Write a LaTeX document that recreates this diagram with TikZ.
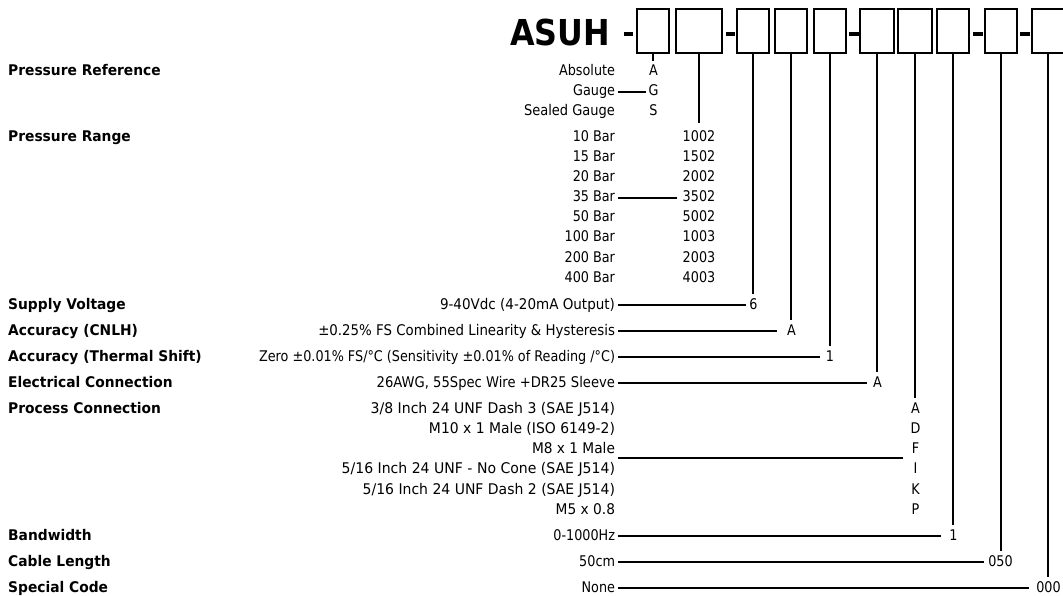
\documentclass[tikz,border=0pt]{standalone}
\usepackage{graphicx}
\usepackage{fontspec}
\setmainfont{DejaVu Sans}[FakeStretch=0.87]
\newfontfamily\hdrfont{DejaVu Sans}[FakeStretch=0.94]
\newfontfamily\titlefont{DejaVu Sans}[FakeStretch=0.89]
\usetikzlibrary{calc}
\newcommand{\labfit}[2]{\resizebox{#1}{\height}{#2}}
\begin{document}
\begin{tikzpicture}[x=1pt,y=-1pt,
  lab/.style={anchor=base east, inner sep=0pt, outer sep=0pt, text height=11pt, text depth=3pt, font=\fontsize{14.7}{17}\selectfont},
  hdr/.style={anchor=base west, inner sep=0pt, font=\hdrfont\bfseries\fontsize{14.7}{17}\selectfont},
  code/.style={anchor=base, inner sep=0pt, outer sep=0pt, text height=11pt, text depth=3pt, font=\fontsize{14.7}{17}\selectfont},
  box/.style={draw, line width=2pt, inner sep=0pt, minimum height=44pt, minimum width=32pt},
  conn/.style={line width=2pt},
  sepbar/.style={fill=black}]
\useasboundingbox (0,0) rectangle (1063,596);

% title and boxes
\node[anchor=base west, inner sep=0pt, font=\titlefont\bfseries\fontsize{35.7}{40}\selectfont] (title) at (510,46) {ASUH};
\fill[sepbar] (624,32) rectangle (633,36);
\node[box] (b1) at (653,31) {};
\node[box, minimum width=46pt] (b2) at (699,31) {};
\fill[sepbar] (726,32) rectangle (735,36);
\node[box] (b3) at (753,31) {};
\node[box] (b4) at (791,31) {};
\node[box] (b5) at (830,31) {};
\fill[sepbar] (849,32) rectangle (859,36);
\node[box, minimum width=34pt] (b6) at (877,31) {};
\node[box, minimum width=34pt] (b7) at (915,31) {};
\node[box] (b8) at (953,31) {};
\fill[sepbar] (973,32) rectangle (983,36);
\node[box] (b9) at (1001,31) {};
\fill[sepbar] (1020,32) rectangle (1030,36);
\node[box] (b10) at (1048,31) {};

% Pressure reference
\node[hdr] (hPR) at (8,76) {Pressure Reference};
\node[lab] (lAbs) at (615,76) {Absolute};
\node[lab] (lGau) at (615,96) {Gauge};
\node[lab] (lSea) at (615,116) {\labfit{91pt}{Sealed Gauge}};
\node[code] (cA) at (653.5,76) {A};
\node[code] (cG) at (653.5,96) {G};
\node[code] (cS) at (653.5,116) {S};

% Pressure range
\node[hdr] (hRange) at (8,142) {Pressure Range};
\node[lab] (l10) at (615,142) {10 Bar};
\node[lab] (l15) at (615,162) {15 Bar};
\node[lab] (l20) at (615,182) {20 Bar};
\node[lab] (l35) at (615,202) {35 Bar};
\node[lab] (l50) at (615,222) {50 Bar};
\node[lab] (l100) at (615,242) {100 Bar};
\node[lab] (l200) at (615,262) {200 Bar};
\node[lab] (l400) at (615,283) {400 Bar};
\node[code] (c1002) at (699,142) {1002};
\node[code] (c1502) at (699,162) {1502};
\node[code] (c2002) at (699,182) {2002};
\node[code] (c3502) at (699,202) {3502};
\node[code] (c5002) at (699,222) {5002};
\node[code] (c1003) at (699,242) {1003};
\node[code] (c2003) at (699,262) {2003};
\node[code] (c4003) at (699,283) {4003};

% Single-option rows
\node[hdr] (hSup) at (8,309) {Supply Voltage};
\node[lab] (lSup) at (615,309) {\labfit{175pt}{9-40Vdc (4-20mA Output)}};
\node[code] (c6) at (753.5,309) {6};

\node[hdr] (hCN) at (8,335) {Accuracy (CNLH)};
\node[lab] (lCN) at (615,335) {\labfit{296.7pt}{±0.25\% FS Combined Linearity \& Hysteresis}};
\node[code] (cCN) at (791.5,335) {A};

\node[hdr] (hTS) at (8,361) {Accuracy (Thermal Shift)};
\node[lab] (lTS) at (615,361) {Zero ±0.01\% FS/°C (Sensitivity ±0.01\% of Reading /°C)};
\node[code] (cTS) at (830,361) {1};

\node[hdr] (hEC) at (8,387) {Electrical Connection};
\node[lab] (lEC) at (615,387) {\labfit{238.3pt}{26AWG, 55Spec Wire +DR25 Sleeve}};
\node[code] (cEC) at (877.5,387) {A};

% Process connection
\node[hdr] (hPC) at (8,413) {Process Connection};
\node[lab] (lPC1) at (615,413) {\labfit{244.3pt}{3/8 Inch 24 UNF Dash 3 (SAE J514)}};
\node[lab] (lPC2) at (615,433) {\labfit{186pt}{M10 x 1 Male (ISO 6149-2)}};
\node[lab] (lPC3) at (615,453) {\labfit{83pt}{M8 x 1 Male}};
\node[lab] (lPC4) at (615,473) {\labfit{273.3pt}{5/16 Inch 24 UNF - No Cone (SAE J514)}};
\node[lab] (lPC5) at (615,494) {\labfit{252.3pt}{5/16 Inch 24 UNF Dash 2 (SAE J514)}};
\node[lab] (lPC6) at (615,514) {\labfit{59.3pt}{M5 x 0.8}};
\node[code] (cPA) at (915.5,413) {A};
\node[code] (cPD) at (915.5,433) {D};
\node[code] (cPF) at (915.5,453) {F};
\node[code] (cPI) at (915.5,473) {I};
\node[code] (cPK) at (915.5,494) {K};
\node[code] (cPP) at (915.5,514) {P};
\coordinate (pcA) at (618,458);
\coordinate (pcB) at (903,458);

% Remaining rows
\node[hdr] (hBW) at (8,540) {Bandwidth};
\node[lab] (lBW) at (615,540) {0-1000Hz};
\node[code] (cBW) at (953.5,540) {1};

\node[hdr] (hCL) at (8,566) {Cable Length};
\node[lab] (lCL) at (615,566) {50cm};
\node[code] (cCL) at (1000.5,566) {050};

\node[hdr] (hSC) at (8,592) {Special Code};
\node[lab] (lSC) at (615,592) {None};
\node[code] (cSC) at (1048.5,592) {000};

% connectors (vertical ones drop straight from the box centre)
\draw[conn] (b1.south) -- ($(b1.south |- cA.north)+(0,-4)$);
\draw[conn] ([xshift=3pt]lGau.east) -- ([xshift=-3pt]cG.west);
\draw[conn] (b2.south) -- ($(b2.south |- c1002.north)+(0,-8)$);
\draw[conn] ([xshift=3pt]l35.east) -- ([xshift=-6pt]c3502.west);
\draw[conn] (b3.south) -- ($(b3.south |- c6.north)+(0,-4)$);
\draw[conn] ([xshift=3pt]lSup.east) -- ([xshift=-3pt]c6.west);
\draw[conn] (b4.south) -- ($(b4.south |- cCN.north)+(0,-4)$);
\draw[conn] ([xshift=3pt]lCN.east) -- ([xshift=-10.5pt]cCN.west);
\draw[conn] (b5.south) -- ($(b5.south |- cTS.north)+(0,-4)$);
\draw[conn] ([xshift=3pt]lTS.east) -- ([xshift=-5.5pt]cTS.west);
\draw[conn] (b6.south) -- ($(b6.south |- cEC.north)+(0,-4)$);
\draw[conn] ([xshift=3pt]lEC.east) -- ([xshift=-6.5pt]cEC.west);
\draw[conn] (b7.south) -- ($(b7.south |- cPA.north)+(0,-4)$);
\draw[conn] (pcA) -- (pcB);
\draw[conn] (b8.south) -- ($(b8.south |- cBW.north)+(0,-4)$);
\draw[conn] ([xshift=3pt]lBW.east) -- ([xshift=-8.5pt]cBW.west);
\draw[conn] (b9.south) -- ($(b9.south |- cCL.north)+(0,-4)$);
\draw[conn] ([xshift=3pt]lCL.east) -- ([xshift=-4.3pt]cCL.west);
\draw[conn] (b10.south) -- ($(b10.south |- cSC.north)+(0,-4)$);
\draw[conn] ([xshift=3pt]lSC.east) -- ([xshift=-7pt]cSC.west);
\end{tikzpicture}
\end{document}
